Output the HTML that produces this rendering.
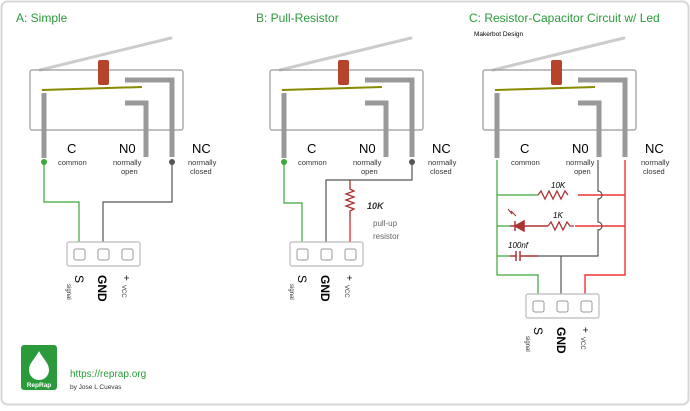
<!DOCTYPE html>
<html><head><style>
body{margin:0;background:#fff;}
svg text{font-family:"Liberation Sans",Arial,sans-serif;}
</style></head><body>
<svg width="690" height="406" viewBox="0 0 690 406" xmlns="http://www.w3.org/2000/svg">
<rect x="1.5" y="1.5" width="687" height="403" rx="6" fill="#fff" stroke="#d8d8d8" stroke-width="2"/>
<defs>
<g id="sw">
  <line x1="40" y1="70" x2="171" y2="38" stroke="#ccc" stroke-width="3" stroke-linecap="round"/>
  <rect x="30" y="70" width="153" height="60" rx="2" fill="none" stroke="#999" stroke-width="1.2"/>
  <rect x="98" y="60" width="11" height="25" rx="2" fill="#b5442a"/>
  <line x1="42" y1="90" x2="142" y2="87" stroke="#8a8a00" stroke-width="2"/>
  <path d="M44 93 V158" stroke="#999" stroke-width="5" fill="none"/>
  <path d="M125 103 H146 V157" stroke="#999" stroke-width="5" fill="none"/>
  <path d="M125 80 H172 V157" stroke="#999" stroke-width="5" fill="none"/>
  <text x="67" y="153" font-size="13">C</text>
  <text x="58" y="165" font-size="7.5" fill="#333">common</text>
  <text x="119" y="153" font-size="13">N0</text>
  <text x="113" y="165" font-size="7.5" fill="#333">normally</text>
  <text x="121" y="174" font-size="7.5" fill="#333">open</text>
  <text x="192" y="153" font-size="13">NC</text>
  <text x="188" y="165" font-size="7.5" fill="#333">normally</text>
  <text x="190" y="174" font-size="7.5" fill="#333">closed</text>
</g>
<g id="con">
  <rect x="0" y="0" width="73" height="24" rx="2" fill="#fff" stroke="#bbb" stroke-width="1.2"/>
  <rect x="7" y="7" width="11" height="11" rx="2" fill="#fff" stroke="#999"/>
  <rect x="31" y="7" width="11" height="11" rx="2" fill="#fff" stroke="#999"/>
  <rect x="55" y="7" width="11" height="11" rx="2" fill="#fff" stroke="#999"/>
  <text transform="translate(8,33) rotate(90)" font-size="12">S</text>
  <text transform="translate(0,42) rotate(90)" font-size="6" fill="#333">signal</text>
  <text transform="translate(31,33) rotate(90)" font-size="12" font-weight="bold">GND</text>
  <text transform="translate(56,33) rotate(90)" font-size="10">+</text>
  <text transform="translate(55,43) rotate(90)" font-size="6" fill="#333">VCC</text>
</g>
</defs>

<text x="16" y="22" font-size="12" fill="#2a9a3a">A: Simple</text>
<text x="256" y="22" font-size="12" fill="#2a9a3a">B: Pull-Resistor</text>
<text x="469" y="22" font-size="12" fill="#2a9a3a">C: Resistor-Capacitor Circuit w/ Led</text>
<text x="474" y="36" font-size="6.5">Makerbot Design</text>

<use href="#sw"/>
<use href="#sw" x="240"/>
<use href="#sw" x="453"/>

<!-- A wiring -->
<path d="M44 162 V202 H79 V250" stroke="#3aa83a" stroke-width="1.2" fill="none"/>
<path d="M172 162 V202 H103 V250" stroke="#555" stroke-width="1.2" fill="none"/>
<circle cx="44" cy="162" r="3" fill="#3aa83a"/><circle cx="172" cy="162" r="3" fill="#555"/>
<use href="#con" x="67" y="242"/>

<!-- B wiring -->
<path d="M284 162 V203 H302 V250" stroke="#3aa83a" stroke-width="1.2" fill="none"/>
<path d="M412 162 V180 H326 V250" stroke="#555" stroke-width="1.2" fill="none"/>
<circle cx="284" cy="162" r="3" fill="#3aa83a"/><circle cx="412" cy="162" r="3" fill="#555"/>
<path d="M350 180 V189 l4 2 l-8 3 l8 3 l-8 3 l8 3 l-8 3 l8 3 l-4 2 V222" stroke="#a33" stroke-width="1.3" fill="none"/>
<path d="M350 222 V250" stroke="#e33" stroke-width="1.4" fill="none"/>
<text x="367" y="209" font-size="9" font-style="italic" font-weight="bold" fill="#333">10K</text>
<text x="373" y="226" font-size="8" fill="#666" font-family="Liberation Mono">pull-up</text>
<text x="373" y="239" font-size="8" fill="#666" font-family="Liberation Mono">resistor</text>
<use href="#con" x="290" y="242"/>

<!-- C wiring -->
<path d="M497 160 V275 H538 V302" stroke="#3aa83a" stroke-width="1.2" fill="none"/>
<path d="M497 195 H538 M497 226 H510 M497 256 H510" stroke="#3aa83a" stroke-width="1.2" fill="none"/>
<path d="M538 195 l3 -4 l4 8 l4 -8 l4 8 l4 -8 l4 8 l4 -8 l3 4" stroke="#a33" stroke-width="1.3" fill="none"/>
<path d="M578 195 H625 M575 226 H625" stroke="#e33" stroke-width="1.4" fill="none"/>
<path d="M625 160 V275 H585 V302" stroke="#e33" stroke-width="1.4" fill="none"/>
<path d="M598 160 V191 a4 4 0 0 1 0 8 V222 a4 4 0 0 1 0 8 V256 H538" stroke="#555" stroke-width="1.2" fill="none"/>
<path d="M561 256 V302" stroke="#555" stroke-width="1.2" fill="none"/>
<path d="M510 226 H515 M515 221 V231 M515 226 L524 221 V231 Z M524 226 H548" stroke="#a33" stroke-width="1.5" fill="#a33"/>
<path d="M548 226 l3 -4 l4 8 l4 -8 l4 8 l4 -8 l3 4 h4" stroke="#a33" stroke-width="1.3" fill="none"/>
<path d="M516 216 l-5 -5 M512 214 l-4 -5" stroke="#a33" stroke-width="1.1"/>
<path d="M510 256 H516 M516 251 V261 M520 251 V261 M520 256 H538" stroke="#a33" stroke-width="1.5" fill="none"/>
<text x="551" y="188" font-size="8" font-style="italic">10K</text>
<text x="553" y="218" font-size="8" font-style="italic">1K</text>
<text x="508" y="248" font-size="8" font-style="italic">100nf</text>
<use href="#con" x="526" y="294"/>

<!-- footer -->
<rect x="21" y="345" width="36" height="45" rx="3" fill="#2a9a3a"/>
<path d="M39 351 C35 359 29 363 29 370 a10 10 0 0 0 20 0 C49 363 43 359 39 351 Z" fill="#fff"/>
<text x="39" y="387" font-size="6.5" fill="#fff" text-anchor="middle" font-weight="bold">RepRap</text>
<text x="70" y="377" font-size="10" fill="#2a9a3a">https://reprap.org</text>
<text x="70" y="389" font-size="6.5" fill="#333">by Jose L Cuevas</text>
</svg>
</body></html>
